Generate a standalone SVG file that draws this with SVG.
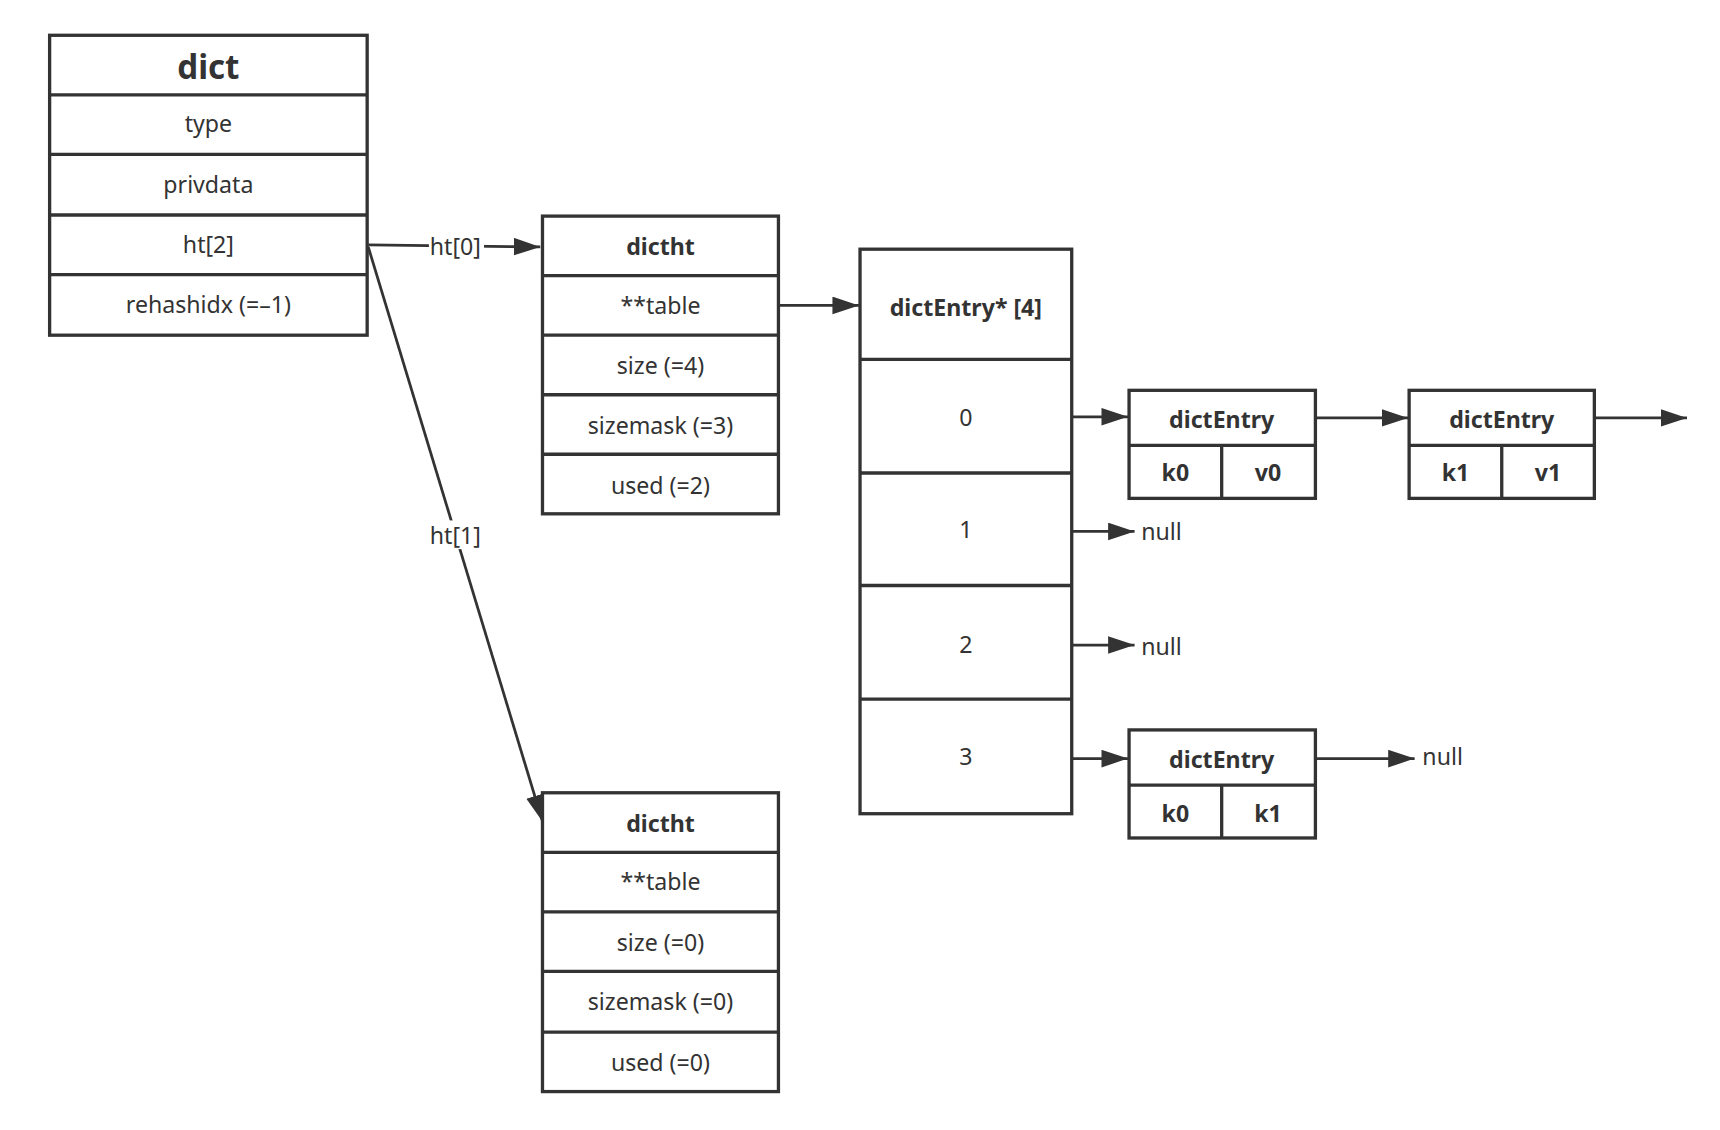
<svg xmlns="http://www.w3.org/2000/svg" width="1720" height="1130" viewBox="0 0 1720 1130">
<style>
.b{fill:#fff;stroke:#333;stroke-width:3}
.l{stroke:#333;stroke-width:3;fill:none}
text{font-family:"Noto Sans","Liberation Sans",sans-serif;font-size:21px;fill:#333;text-anchor:middle;dominant-baseline:central}
.h{font-weight:bold}
.c{stroke:#333;stroke-width:2.5;fill:none;marker-end:url(#a)}
</style>
<defs><marker id="a" markerUnits="userSpaceOnUse" markerWidth="26" markerHeight="18" refX="24" refY="8" orient="auto"><path d="M0,0 L24,8 L0,16 Z" fill="#333"/></marker></defs>
<rect width="1720" height="1130" fill="#fff"/>
<g transform="scale(1.1026)">
<g id="dict">
<rect class="b" x="45" y="32" width="288" height="272"/>
<path class="l" d="M45,86H333M45,140H333M45,195H333M45,249H333"/>
<text x="189" y="60" class="h" style="font-size:30px">dict</text>
<text x="189" y="112">type</text>
<text x="189" y="167">privdata</text>
<text x="189" y="221">ht[2]</text>
<text x="189" y="276">rehashidx (=–1)</text>
</g>
<g id="dictht0">
<rect class="b" x="492" y="196" width="214" height="270"/>
<path class="l" d="M492,250H706M492,304H706M492,358H706M492,412H706"/>
<text x="599" y="223" class="h">dictht</text>
<text x="599" y="277">**table</text>
<text x="599" y="331">size (=4)</text>
<text x="599" y="385">sizemask (=3)</text>
<text x="599" y="440">used (=2)</text>
</g>
<g id="dictht1">
<rect class="b" x="492" y="719" width="214" height="271"/>
<path class="l" d="M492,773H706M492,827H706M492,881H706M492,936H706"/>
<text x="599" y="746" class="h">dictht</text>
<text x="599" y="799">**table</text>
<text x="599" y="854">size (=0)</text>
<text x="599" y="908">sizemask (=0)</text>
<text x="599" y="963">used (=0)</text>
</g>
<g id="array">
<rect class="b" x="780" y="226" width="192" height="512"/>
<path class="l" d="M780,326H972M780,429H972M780,531H972M780,634H972"/>
<text x="876" y="278" class="h">dictEntry* [4]</text>
<text x="876" y="378">0</text>
<text x="876" y="480">1</text>
<text x="876" y="584">2</text>
<text x="876" y="686">3</text>
</g>
<g id="entry0">
<rect class="b" x="1024" y="354" width="169" height="98"/>
<path class="l" d="M1024,404H1193M1108,404V452"/>
<text x="1108" y="380" class="h">dictEntry</text>
<text x="1066" y="428" class="h">k0</text>
<text x="1150" y="428" class="h">v0</text>
</g>
<g id="entry1">
<rect class="b" x="1278" y="354" width="168" height="98"/>
<path class="l" d="M1278,404H1446M1362,404V452"/>
<text x="1362" y="380" class="h">dictEntry</text>
<text x="1320" y="428" class="h">k1</text>
<text x="1404" y="428" class="h">v1</text>
</g>
<g id="entry3">
<rect class="b" x="1024" y="662" width="169" height="98"/>
<path class="l" d="M1024,712H1193M1108,712V760"/>
<text x="1108" y="688" class="h">dictEntry</text>
<text x="1066" y="737" class="h">k0</text>
<text x="1150" y="737" class="h">k1</text>
</g>
<g id="connectors">
<path class="c" d="M334,222L490,224"/>
<path class="c" d="M334,224L492,745"/>
<path class="c" d="M706,277L779,277"/>
<path class="c" d="M972,378L1023,378"/>
<path class="c" d="M972,482L1029,482"/>
<path class="c" d="M972,585L1029,585"/>
<path class="c" d="M972,688L1023,688"/>
<path class="c" d="M1193,379L1277,379"/>
<path class="c" d="M1446,379L1530,379"/>
<path class="c" d="M1193,688L1283,688"/>
<rect x="389" y="210" width="50" height="26" fill="#fff"/>
<text x="413" y="223">ht[0]</text>
<rect x="389" y="472" width="50" height="26" fill="#fff"/>
<text x="413" y="485">ht[1]</text>
<text x="1035" y="482" style="text-anchor:start">null</text>
<text x="1035" y="586" style="text-anchor:start">null</text>
<text x="1290" y="686" style="text-anchor:start">null</text>
</g>
</g>
</svg>
